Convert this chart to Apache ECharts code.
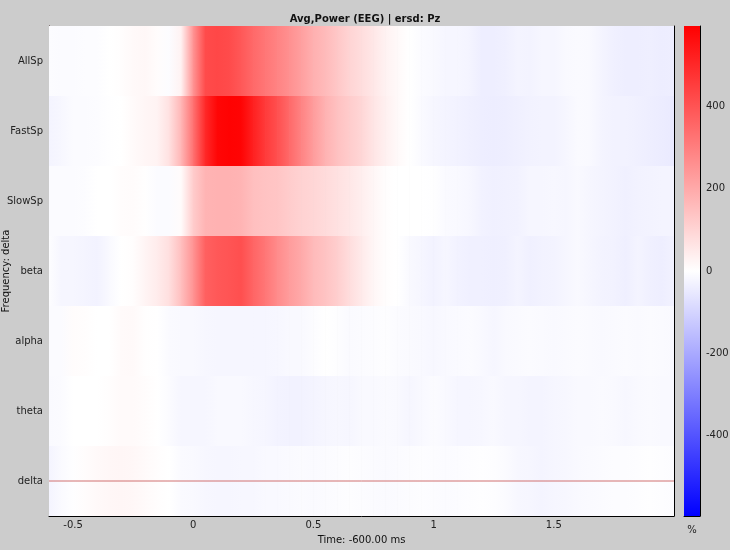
<!DOCTYPE html>
<html>
<head>
<meta charset="utf-8">
<script src="https://cdn.jsdelivr.net/npm/echarts@6/dist/echarts.min.js"></script>
<style>html,body{margin:0;padding:0;background:#cccccc;}#c{width:730px;height:550px;}</style>
</head>
<body>
<div id="c"></div>
<script>
// ---- data ----
const timePoints = [-0.6,-0.55,-0.5,-0.45,-0.4,-0.35,-0.3,-0.25,-0.2,-0.15,-0.1,-0.05,0,0.05,0.1,0.15,0.2,0.25,0.3,0.35,0.4,0.45,0.5,0.55,0.6,0.65,0.7,0.75,0.8,0.85,0.9,0.95,1.0,1.05,1.1,1.15,1.2,1.25,1.3,1.35,1.4,1.45,1.5,1.55,1.6,1.65,1.7,1.75,1.8,1.85,1.9,1.95,2.0];
const freqBands = ['delta','theta','alpha','beta','SlowSp','FastSp','AllSp'];
const powerDelta = [-25,-12,-3,8,15,18,20,18,12,5,0,-12,-15,-18,-20,-20,-18,-18,-15,-15,-12,-10,-12,-10,-8,-5,-8,-10,-12,-10,-8,-5,-8,-10,-8,-5,-3,-5,-10,-18,-22,-25,-22,-18,-15,-12,-10,-8,-8,-5,-3,-5,-8];
const powerTheta = [-12,-10,0,0,0,5,12,12,8,0,-10,-20,-22,-20,-15,-15,-15,-18,-20,-28,-30,-30,-25,-20,-18,-20,-15,-15,-12,-15,-20,-15,-10,-15,-20,-20,-18,-15,-20,-22,-25,-25,-20,-18,-15,-15,-12,-15,-18,-15,-12,-15,-15];
const powerAlpha = [-10,-10,8,5,0,0,12,15,2,0,-12,-15,-15,-18,-20,-20,-22,-20,-20,-18,-15,-15,-8,0,-5,-12,-10,-8,-5,-10,-12,-15,-18,-15,-12,-10,-15,-20,-15,-12,-10,-12,-15,-12,-10,-12,-15,-12,-10,-12,-10,-12,-15];
const powerBeta = [-5,-20,-20,-25,-30,-15,0,5,25,45,75,150,250,370,390,400,410,360,320,270,230,200,160,140,115,80,50,20,5,0,-15,-20,-30,-20,-30,-35,-35,-38,-35,-25,-35,-30,-28,-20,-15,-20,-28,-30,-38,-25,-35,-40,-30];
const powerSlowSp = [-10,-10,-10,-6,0,0,8,10,2,-10,-10,10,120,175,180,180,175,150,140,135,120,105,95,85,70,55,40,20,5,0,0,0,-3,-12,-15,-18,-30,-35,-32,-30,-22,-20,-18,-20,-15,-20,-25,-30,-35,-30,-28,-25,-25];
const powerFastSp = [-25,-18,-10,-10,-8,-2,0,12,20,28,70,170,330,500,580,590,585,520,460,410,350,290,230,180,145,120,95,60,35,15,0,-12,-20,-25,-30,-35,-40,-42,-40,-35,-30,-28,-28,-20,-12,-15,-25,-30,-30,-35,-40,-45,-48];
const powerAllSp = [-8,-10,-10,-8,-6,0,5,15,18,8,-8,30,250,420,430,420,390,350,320,290,260,225,185,160,130,100,80,55,30,15,0,-10,-15,-20,-22,-25,-40,-40,-35,-25,-28,-22,-20,-15,-12,-15,-25,-35,-40,-40,-38,-42,-40];
const bandValues = [powerDelta, powerTheta, powerAlpha, powerBeta, powerSlowSp, powerFastSp, powerAllSp];
const colorLimit = 595;
const colorTicks = [-400,-200,0,200,400];
const timeTicks = [-0.5,0,0.5,1,1.5];
const markedBand = 'delta';
const timeRange = [-0.6, 2.0];

// ---- colour map (blue - white - red) ----
function valueColor(v){
  let n = Math.max(-1, Math.min(1, v / colorLimit));
  let r, g, b;
  if (n >= 0){ r = 255; g = Math.round(255*(1-n)); b = g; }
  else { b = 255; r = Math.round(255*(1+n)); g = r; }
  return 'rgb(' + r + ',' + g + ',' + b + ')';
}

// build segments: [t0, t1, bandIndex, v0, v1]
const segs = [];
bandValues.forEach(function(vals, bi){
  for (let k = 0; k < timePoints.length - 1; k++){
    segs.push([timePoints[k], timePoints[k+1], bi, vals[k], vals[k+1]]);
  }
});

const FONT = 'DejaVu Sans';
const chart = echarts.init(document.getElementById('c'));
chart.setOption({
  animation: false,
  backgroundColor: '#cccccc',
  textStyle: {fontFamily: FONT},
  title: {
    text: 'Avg,Power (EEG) | ersd: Pz',
    left: 'center', top: 9,
    textStyle: {fontFamily: FONT, fontSize: 10, fontWeight: 'bold', color: '#111'}
  },
  grid: [
    {left: 49, top: 26, width: 625, height: 490, containLabel: false, outerBoundsMode: 'none'},
    {left: 684, top: 26, width: 16, height: 490, containLabel: false, outerBoundsMode: 'none'}
  ],
  xAxis: [
    {
      gridIndex: 0, type: 'value', min: timeRange[0], max: timeRange[1],
      axisLine: {show: true, onZero: false, lineStyle: {color: '#000', width: 1}},
      axisTick: {show: false},
      splitLine: {show: false},
      axisLabel: {customValues: timeTicks, color: '#222', fontSize: 10, fontFamily: FONT, margin: 4,
        formatter: function(v){ return String(Math.round(v*10)/10); }},
      name: 'Time: -600.00 ms', nameLocation: 'middle', nameGap: 19,
      nameTextStyle: {color: '#111', fontSize: 10, fontFamily: FONT}
    },
    {
      gridIndex: 1, type: 'value', min: 0, max: 1,
      axisLine: {show: true, onZero: false, lineStyle: {color: '#000'}},
      axisTick: {show: false}, axisLabel: {show: false}, splitLine: {show: false},
      name: '%', nameLocation: 'middle', nameGap: 9,
      nameTextStyle: {color: '#222', fontSize: 10, fontFamily: FONT}
    }
  ],
  yAxis: [
    {
      gridIndex: 0, type: 'category', data: freqBands,
      axisLine: {show: true, onZero: false, lineStyle: {color: '#200', width: 1}},
      axisTick: {show: false},
      splitLine: {show: false},
      axisLabel: {color: '#222', fontSize: 10, fontFamily: FONT, margin: 6},
      name: 'Frequency: delta', nameLocation: 'middle', nameRotate: 90, nameGap: 38,
      nameMoveOverlap: false,
      nameTextStyle: {color: '#111', fontSize: 10, fontFamily: FONT}
    },
    {
      gridIndex: 0, type: 'value', min: 0, max: 1, position: 'right',
      axisLine: {show: true, onZero: false, lineStyle: {color: '#000', width: 1}},
      axisTick: {show: false}, axisLabel: {show: false}, splitLine: {show: false}
    },
    {
      gridIndex: 1, type: 'value', min: -colorLimit, max: colorLimit, position: 'right',
      axisLine: {show: true, onZero: false, lineStyle: {color: '#000'}},
      axisTick: {show: false}, splitLine: {show: false},
      axisLabel: {customValues: colorTicks, color: '#222', fontSize: 10, fontFamily: FONT, margin: 6}
    }
  ],
  series: [
    {
      type: 'custom',
      xAxisIndex: 0, yAxisIndex: 0,
      data: segs,
      clip: true,
      renderItem: function(params, api){
        const band = api.value(2);
        const p0 = api.coord([api.value(0), band]);
        const p1 = api.coord([api.value(1), band]);
        const h = api.size([0, 1])[1];
        return {
          type: 'rect',
          shape: {x: p0[0] - 0.3, y: p0[1] - h/2, width: p1[0] - p0[0] + 0.6, height: h},
          style: {
            fill: new echarts.graphic.LinearGradient(0, 0, 1, 0, [
              {offset: 0, color: valueColor(api.value(3))},
              {offset: 1, color: valueColor(api.value(4))}
            ])
          }
        };
      },
      z: 1
    },
    {
      type: 'line',
      xAxisIndex: 0, yAxisIndex: 0,
      data: [[timeRange[0], markedBand], [timeRange[1], markedBand]],
      symbol: 'none', silent: true,
      lineStyle: {color: '#d07070', width: 1},
      z: 3
    },
    {
      type: 'custom',
      xAxisIndex: 1, yAxisIndex: 2,
      data: [[-colorLimit, colorLimit]],
      renderItem: function(params, api){
        const a = api.coord([0, api.value(0)]);
        const b = api.coord([1, api.value(1)]);
        return {
          type: 'rect',
          shape: {x: a[0], y: b[1], width: b[0] - a[0], height: a[1] - b[1]},
          style: {
            fill: new echarts.graphic.LinearGradient(0, 0, 0, 1, [
              {offset: 0, color: valueColor(colorLimit)},
              {offset: 0.5, color: valueColor(0)},
              {offset: 1, color: valueColor(-colorLimit)}
            ])
          }
        };
      }
    }
  ]
});
</script>
</body>
</html>
